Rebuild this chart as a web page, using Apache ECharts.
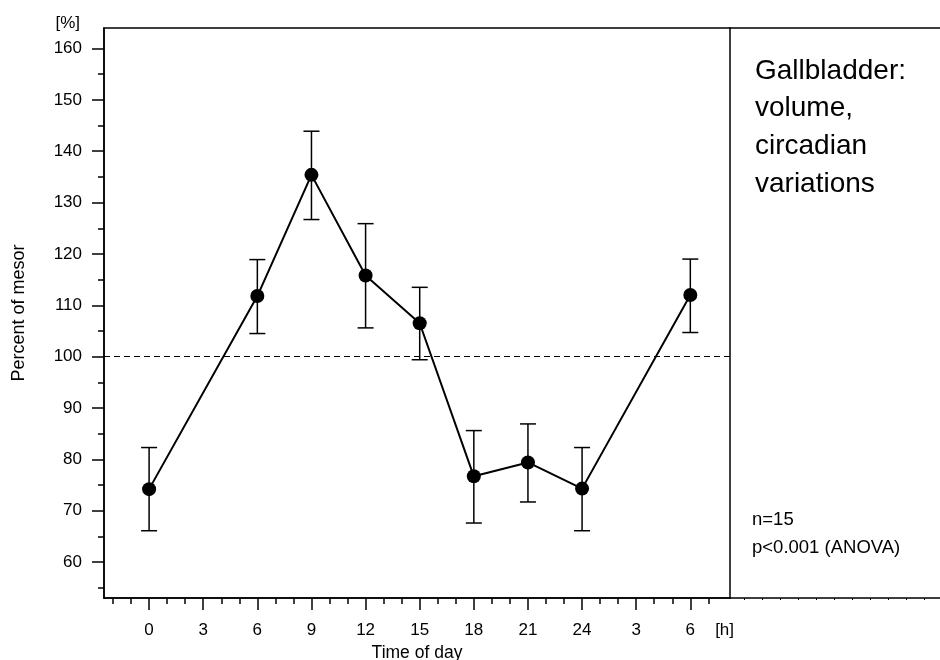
<!DOCTYPE html>
<html>
<head>
<meta charset="utf-8">
<title>Gallbladder volume, circadian variations</title>
<script src="https://cdn.jsdelivr.net/npm/echarts@6/dist/echarts.min.js"></script>
<style>
  html, body { margin: 0; padding: 0; background: #fff; }
  #chart { width: 940px; height: 660px; }
</style>
</head>
<body>
<div id="chart"></div>
<script>
// time of day in hours (second 6 h = next morning, plotted as 30)
const hours = [0, 6, 9, 12, 15, 18, 21, 24, 30]
const means = [74.2, 111.8, 135.4, 115.8, 106.5, 76.7, 79.4, 74.3, 112.0]
const upper = [82.3, 118.9, 143.9, 125.9, 113.5, 85.6, 86.9, 82.3, 119.0]
const lower = [66.1, 104.5, 126.7, 105.6, 99.4, 67.6, 71.7, 66.1, 104.7]
const mesor = 100

const xMajorTicks = [0, 3, 6, 9, 12, 15, 18, 21, 24, 27, 30]
const xTickLabels = ['0', '3', '6', '9', '12', '15', '18', '21', '24', '3', '6']
const xMinorTicks = [-2, -1, 1, 2, 4, 5, 7, 8, 10, 11, 13, 14, 16, 17, 19, 20, 22, 23, 25, 26, 28, 29, 31]
const xUnitPos = 31.9
const xExtraTicks = [33, 34, 35, 36, 37, 38, 39, 40, 41, 42, 43]
const yMajorTicks = [60, 70, 80, 90, 100, 110, 120, 130, 140, 150, 160]
const yMinorTicks = [55, 65, 75, 85, 95, 105, 115, 125, 135, 145, 155]

const font = 'Liberation Sans, Arial, sans-serif'
const ink = '#000'

const chart = echarts.init(document.getElementById('chart'))
const barStyle = { stroke: ink, lineWidth: 1.5 }
const noLine = { show: false, onZero: false }

chart.setOption({
  backgroundColor: '#fff',
  animation: false,
  textStyle: { fontFamily: font, color: ink },
  title: [{
    text: 'Gallbladder:\nvolume,\ncircadian\nvariations',
    left: 750,
    top: 47,
    textStyle: { fontFamily: font, fontSize: 28, fontWeight: 'normal', lineHeight: 37.7, color: ink }
  }, {
    text: 'n=15\np<0.001 (ANOVA)',
    left: 747,
    top: 501,
    textStyle: { fontFamily: font, fontSize: 18.5, fontWeight: 'normal', lineHeight: 28, color: ink }
  }],
  grid: [
    { left: 104, top: 28, width: 626, height: 570, outerBoundsMode: 'none', show: true, borderColor: ink, borderWidth: 1.5, backgroundColor: 'transparent' },
    { left: 730, top: 28, width: 210, height: 570, outerBoundsMode: 'none' }
  ],
  xAxis: [{
    gridIndex: 0,
    type: 'value',
    position: 'bottom',
    min: -2.5,
    max: 32.2,
    name: 'Time of day',
    nameLocation: 'middle',
    nameGap: 43,
    nameTextStyle: { fontSize: 17.5, color: ink },
    axisLine: { show: true, onZero: false, lineStyle: { color: ink, width: 1.5 } },
    axisTick: { show: true, customValues: xMajorTicks, length: 12, lineStyle: { color: ink, width: 1.5 } },
    axisLabel: {
      customValues: xMajorTicks.concat([xUnitPos]),
      margin: 24,
      fontSize: 17,
      color: ink,
      formatter: v => v === xUnitPos ? '[h]' : xTickLabels[xMajorTicks.indexOf(v)]
    },
    splitLine: { show: false }
  }, {
    gridIndex: 0,
    type: 'value',
    position: 'bottom',
    min: -2.5,
    max: 32.2,
    axisLine: noLine,
    axisTick: { show: true, customValues: xMinorTicks, length: 6, lineStyle: { color: ink, width: 1.5 } },
    axisLabel: { show: false },
    splitLine: { show: false }
  }, {
    gridIndex: 1,
    type: 'value',
    position: 'bottom',
    min: 32.2,
    max: 43.85,
    axisLine: { show: true, onZero: false, lineStyle: { color: ink, width: 1.5 } },
    axisTick: { show: true, customValues: xExtraTicks, length: 2, lineStyle: { color: ink, width: 1 } },
    axisLabel: { show: false },
    splitLine: { show: false }
  }, {
    gridIndex: 1,
    type: 'value',
    position: 'top',
    min: 32.2,
    max: 43.85,
    axisLine: { show: true, onZero: false, lineStyle: { color: ink, width: 1.5 } },
    axisTick: { show: false },
    axisLabel: { show: false },
    splitLine: { show: false }
  }],
  yAxis: [{
    gridIndex: 0,
    type: 'value',
    position: 'left',
    min: 53,
    max: 164,
    name: 'Percent of mesor',
    nameLocation: 'middle',
    nameGap: 76,
    nameRotate: 90,
    nameTextStyle: { fontSize: 18, color: ink },
    axisLine: { show: true, onZero: false, lineStyle: { color: ink, width: 1.5 } },
    axisTick: { show: true, customValues: yMajorTicks, length: 12, lineStyle: { color: ink, width: 1.5 } },
    axisLabel: { customValues: yMajorTicks, margin: 22, fontSize: 17, color: ink },
    splitLine: { show: false }
  }, {
    gridIndex: 0,
    type: 'value',
    position: 'left',
    min: 53,
    max: 164,
    name: '[%]',
    nameLocation: 'end',
    nameGap: 5,
    nameTextStyle: { fontSize: 17, color: ink, align: 'right', verticalAlign: 'middle', padding: [0, 24, 0, 0] },
    axisLine: noLine,
    axisTick: { show: true, customValues: yMinorTicks, length: 6, lineStyle: { color: ink, width: 1.5 } },
    axisLabel: { show: false },
    splitLine: { show: false }
  }, {
    gridIndex: 1,
    type: 'value',
    min: 53,
    max: 164,
    show: false
  }],
  series: [{
    type: 'custom',
    xAxisIndex: 0,
    yAxisIndex: 0,
    data: hours.map((h, i) => [h, upper[i], lower[i]]),
    encode: { x: 0, y: [1, 2] },
    z: 2,
    renderItem(params, api) {
      const x = api.value(0)
      const top = api.coord([x, api.value(1)])
      const bot = api.coord([x, api.value(2)])
      const half = 8
      return {
        type: 'group',
        children: [
          { type: 'line', shape: { x1: top[0], y1: top[1], x2: bot[0], y2: bot[1] }, style: barStyle },
          { type: 'line', shape: { x1: top[0] - half, y1: top[1], x2: top[0] + half, y2: top[1] }, style: barStyle },
          { type: 'line', shape: { x1: bot[0] - half, y1: bot[1], x2: bot[0] + half, y2: bot[1] }, style: barStyle }
        ]
      }
    }
  }, {
    type: 'line',
    xAxisIndex: 0,
    yAxisIndex: 0,
    data: hours.map((h, i) => [h, means[i]]),
    symbol: 'circle',
    symbolSize: 14,
    z: 3,
    itemStyle: { color: ink },
    lineStyle: { color: ink, width: 2 },
    markLine: {
      silent: true,
      symbol: 'none',
      label: { show: false },
      lineStyle: { color: ink, width: 1, type: [6, 4] },
      data: [{ yAxis: mesor }]
    }
  }]
})
</script>
</body>
</html>
